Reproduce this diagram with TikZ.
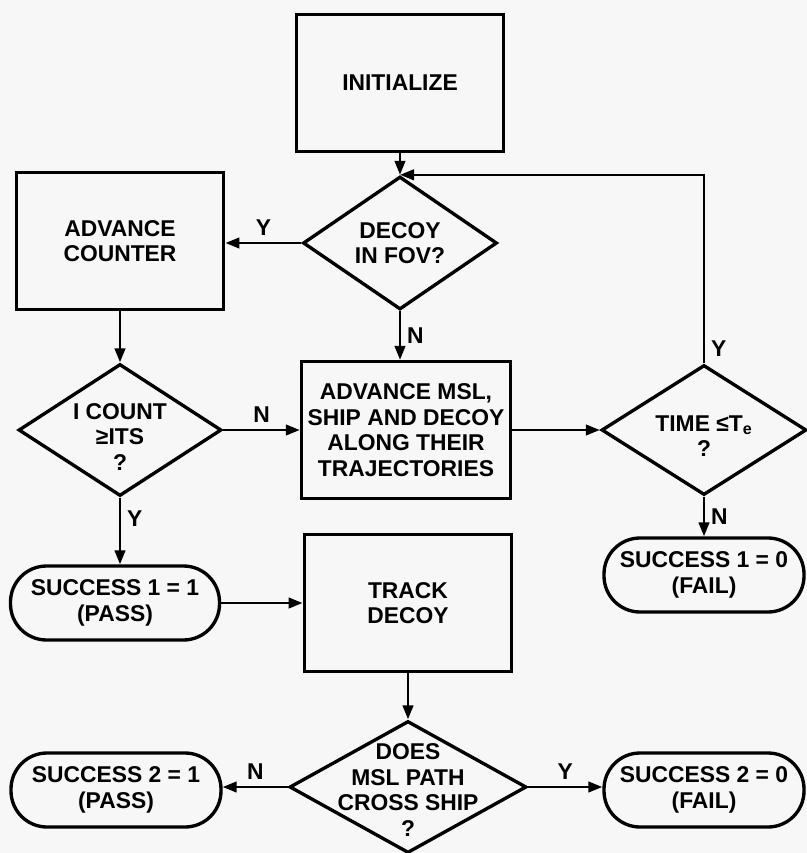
\documentclass[tikz,border=0pt]{standalone}
\usepackage{fontspec}
\setmainfont{Liberation Sans}
\usetikzlibrary{shapes.geometric,arrows.meta}

\begin{document}
\begin{tikzpicture}[
        font=\bfseries\fontsize{13}{14.5}\selectfont,
        box/.style={draw, line width=1.9pt, minimum width=4.15cm, minimum height=2.74cm, align=center},
        decision/.style={draw, diamond, line width=1.9pt, inner sep=0pt, minimum width=4.06cm, minimum height=2.64cm},
        terminal/.style={draw, rounded corners=0.72cm, line width=1.9pt, minimum width=4.15cm, minimum height=1.48cm, align=center},
        inside/.style={align=center, inner sep=0pt},
        flow/.style={-{Triangle[length=8pt,width=6pt]}, line width=1.5pt}
    ]
                \fill[black!3] (0,0) rectangle (16.14,-17.06);
                \useasboundingbox (0,0) rectangle (16.14,-17.06);

                \draw node[box] (init) at (8.0,-1.66) {INITIALIZE};
                \draw node[decision, minimum width=3.88cm, minimum height=2.66cm, label={[inside]center:DECOY\\IN FOV?}] (decoy) at (8.0,-4.86) {};
                \draw node[box] (advcnt) at (2.40,-4.82) {ADVANCE\\COUNTER};
                \draw node[decision, label={[inside, yshift=-0.14cm]center:I COUNT\\≥ITS\\?}] (icount) at (2.40,-8.6) {};
                \draw node[box, minimum width=4.18cm] (advmsl) at (8.12,-8.6) {ADVANCE MSL,\\SHIP AND DECOY\\ALONG THEIR\\TRAJECTORIES};
                \draw node[decision, minimum width=4.1cm, minimum height=2.6cm, label={[inside, yshift=-0.12cm]center:TIME ≤T\textsubscript{e}\\?}] (time) at (14.08,-8.6) {};
                \draw node[terminal, minimum width=4.0cm] (succ10) at (14.08,-11.5) {SUCCESS 1 = 0\\(FAIL)};
                \draw node[terminal, minimum width=4.18cm] (succ11) at (2.30,-12.06) {SUCCESS 1 = 1\\(PASS)};
                \draw node[box] (track) at (8.16,-12.06) {TRACK\\DECOY};
                \draw node[decision, minimum width=4.74cm, label={[inside, yshift=-0.06cm]center:DOES\\MSL PATH\\CROSS SHIP\\?}] (does) at (8.16,-15.74) {};
                \draw node[terminal, minimum width=4.2cm] (succ21) at (2.32,-15.80) {SUCCESS 2 = 1\\(PASS)};
                \draw node[terminal, minimum width=4.0cm] (succ20) at (14.08,-15.80) {SUCCESS 2 = 0\\(FAIL)};

                \draw[flow] (init.south) to (decoy.north);
                \draw[flow] (decoy.west) to node[above] {Y} (decoy.west -| advcnt.east);
                \draw[flow] (decoy.south) to node[right] {N} (decoy.south |- advmsl.north);
                \draw[flow] (advcnt.south) to (icount.north);
                \draw[flow] (icount.east) to node[above] {N} (advmsl.west);
                \draw[flow] (advmsl.east) to (time.west);
                \draw[flow] (time.north) -- node[right, pos=0.08] {Y} (time.north |- decoy.north) -- (decoy.north);
                \draw[flow] (time.south) to node[right] {N} (time.south |- succ10.north);
                \draw[flow] (icount.south) to node[right, pos=0.31] {Y} (icount.south |- succ11.north);
                \draw[flow] (succ11.east) to (track.west);
                \draw[flow] (track.south) to (does.north);
                \draw[flow] (does.west) to node[above] {N} (does.west -| succ21.east);
                \draw[flow] (does.east) to node[above] {Y} (does.east -| succ20.west);
            \end{tikzpicture}
\end{document}
